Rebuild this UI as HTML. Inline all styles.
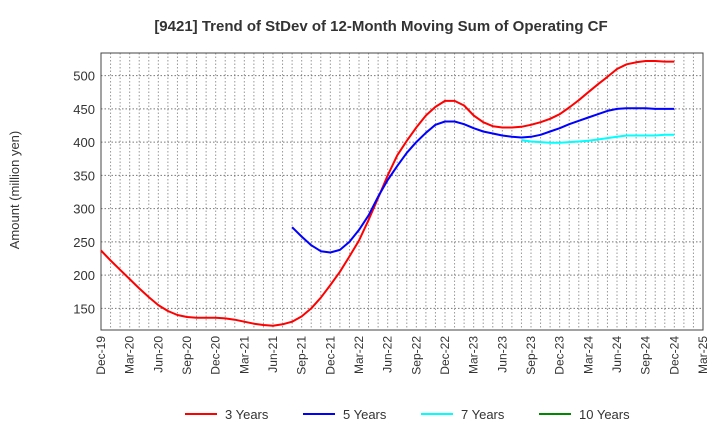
<!DOCTYPE html>
<html><head><meta charset="utf-8"><style>body{margin:0;background:#fff;font-family:"Liberation Sans",sans-serif}</style></head>
<body>
<svg id="c" width="720" height="440" xmlns="http://www.w3.org/2000/svg">
<text x="381" y="31" text-anchor="middle" font-size="15" font-weight="bold" fill="#333">[9421]  Trend of StDev of 12-Month Moving Sum of Operating CF</text>
<text transform="translate(19,190) rotate(-90)" text-anchor="middle" font-size="13" fill="#333">Amount (million yen)</text>
<g id="grid"></g><g id="axes"></g><g id="series"></g><g id="legend"></g>
</svg>
<script>
const xLabels=["Dec-19","Mar-20","Jun-20","Sep-20","Dec-20","Mar-21","Jun-21","Sep-21","Dec-21","Mar-22","Jun-22","Sep-22","Dec-22","Mar-23","Jun-23","Sep-23","Dec-23","Mar-24","Jun-24","Sep-24","Dec-24","Mar-25"];
const yTicks=[150,200,250,300,350,400,450,500];
const s3=[237,222,208,194,180,167,155,146,140,137,136,136,136,135,133,130,127,125,124,126,130,138,150,166,185,205,228,252,283,316,350,380,402,422,440,453,462,462,455,440,430,424,422,422,423,426,430,435,442,452,463,475,487,498,510,517,520,522,522,521,521];
const s5Start=20;
const s5=[272,258,245,236,234,238,250,268,290,318,343,364,384,400,414,426,431,431,427,421,416,413,410,408,407,408,411,416,421,427,432,437,442,447,450,451,451,451,450,450,450];
const s7Start=44;
const s7=[403,401,400,399,399,400,401,402,404,406,408,410,410,410,410,411,411];
const s10=[];
const L=101,R=703,T=53,B=330,yMin=117.5,yMax=534,nMonths=63;
const xs=i=>L+i*(R-L)/nMonths;
const ys=v=>B-(v-yMin)*(B-T)/(yMax-yMin);
const NS="http://www.w3.org/2000/svg";
function mk(p,t,a){const e=document.createElementNS(NS,t);for(const k in a)e.setAttribute(k,a[k]);p.appendChild(e);return e;}
const g=document.getElementById('grid'),ax=document.getElementById('axes'),se=document.getElementById('series'),lg=document.getElementById('legend');
for(let i=1;i<nMonths;i++){const l=mk(g,'line',{x1:xs(i),x2:xs(i),y1:T,y2:B,stroke:'#999','stroke-dasharray':'1.5,2','stroke-width':1});

}
yTicks.forEach(v=>{const l=mk(g,'line',{x1:L,x2:R,y1:ys(v),y2:ys(v),stroke:'#777','stroke-dasharray':'1.5,2','stroke-width':1});


const t=mk(ax,'text',{x:L-6,y:ys(v)+5,'text-anchor':'end','font-size':13,fill:'#333'});t.textContent=v;

});
xLabels.forEach((lab,k)=>{const x=xs(k*3);const t=mk(ax,'text',{transform:`translate(${x+4},${B+6}) rotate(-90)`,'text-anchor':'end','font-size':12,fill:'#333'});t.textContent=lab;

});
const fr=mk(ax,'rect',{x:L,y:T,width:R-L,height:B-T,fill:'none',stroke:'#444','stroke-width':1});


function line(data,start,color,name){if(!data.length)return;const d=data.map((v,i)=>(i?'L':'M')+xs(start+i).toFixed(1)+','+ys(v).toFixed(1)).join('');
const p=mk(se,'path',{d:d,fill:'none',stroke:color,'stroke-width':2,'stroke-linejoin':'round'});

}
line(s3,0,'#f00','series-3-years');
line(s5,s5Start,'#00f','series-5-years');
line(s7,s7Start,'#0ff','series-7-years');
line(s10,0,'#080','series-10-years');
[["3 Years","#f00",185],["5 Years","#00f",303],["7 Years","#0ff",421],["10 Years","#080",539]].forEach(([n,c,x])=>{
const gg=mk(lg,'g',{});


mk(gg,'line',{x1:x,x2:x+32,y1:414,y2:414,stroke:c,'stroke-width':2});
const t=mk(gg,'text',{x:x+40,y:419,'font-size':13,fill:'#333'});t.textContent=n;});
</script>
</body></html>
